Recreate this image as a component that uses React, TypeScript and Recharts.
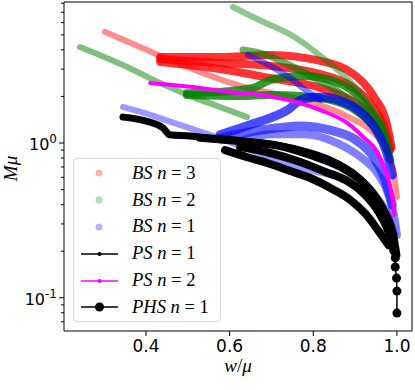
import React from "react";
import { ComposedChart, Line, XAxis, YAxis, ReferenceArea, Legend, Label } from "recharts";

// --- boson stars, n = 3 (red) ---
const bs3ThinW = [0.302, 0.386, 0.457, 0.529, 0.625, 0.721, 0.817, 0.889, 0.937, 0.972, 0.992, 1.0];
const bs3ThinM = [5.22, 4.17, 3.44, 2.88, 2.34, 2.04, 1.76, 1.45, 1.21, 0.928, 0.65, 0.448];
const bs3TopW = [0.434, 0.577, 0.697, 0.817, 0.896, 0.944, 0.977, 0.987];
const bs3TopM = [3.6, 3.6, 3.71, 3.39, 2.79, 2.01, 1.29, 0.94];
const bs3MidW = [0.434, 0.577, 0.697, 0.817, 0.889, 0.941, 0.972, 0.984];
const bs3MidM = [3.49, 3.29, 3.15, 2.79, 2.34, 1.73, 1.21, 0.928];
const bs3LowW = [0.434, 0.577, 0.697, 0.817, 0.889, 0.937, 0.968, 0.984];
const bs3LowM = [3.34, 3.01, 2.63, 2.27, 1.9, 1.52, 1.13, 0.9];

// --- boson stars, n = 2 (green) ---
const bs2ArcW = [0.608, 0.656, 0.697, 0.738, 0.786, 0.817, 0.853, 0.889, 0.925, 0.956, 0.975, 0.984];
const bs2ArcM = [7.57, 6.52, 5.79, 5.14, 4.24, 3.65, 3.05, 2.48, 1.9, 1.41, 1.05, 0.836];
const bs2ThinW = [0.242, 0.355, 0.434, 0.513, 0.577, 0.642];
const bs2ThinM = [4.17, 3.1, 2.44, 1.98, 1.71, 1.47];
const bs2UpW = [0.632, 0.68, 0.738, 0.793, 0.853, 0.901, 0.941, 0.972];
const bs2UpM = [3.99, 3.76, 3.24, 2.71, 2.2, 1.76, 1.37, 1.015];
const bs2BandW = [0.498, 0.577, 0.656, 0.697, 0.776, 0.841, 0.896, 0.937, 0.968, 0.98];
const bs2BandM = [2.1, 2.14, 2.27, 2.55, 2.71, 2.55, 2.14, 1.59, 1.18, 0.875];
const bs2LowW = [0.498, 0.625, 0.697, 0.769, 0.841, 0.901, 0.941, 0.972, 0.984];
const bs2LowM = [2.04, 2.01, 2.04, 2.01, 1.9, 1.63, 1.31, 0.97, 0.776];

// --- boson stars, n = 1 (blue) ---
const bs1ThinW = [0.345, 0.41, 0.481, 0.553, 0.625, 0.697, 0.769, 0.841, 0.901, 0.949, 0.98, 0.996];
const bs1ThinM = [1.71, 1.52, 1.31, 1.13, 0.956, 0.8, 0.689, 0.621, 0.56, 0.461, 0.343, 0.254];
const bs1UpW = [0.644, 0.697, 0.745, 0.781, 0.817];
const bs1UpM = [3.71, 3.15, 2.63, 2.2, 1.9];
const bs1AW = [0.577, 0.656, 0.738, 0.776, 0.817, 0.865, 0.913, 0.953, 0.975, 0.989];
const bs1AM = [1.13, 1.33, 1.63, 1.93, 1.98, 1.87, 1.59, 1.18, 0.875, 0.621];
const bs1BW = [0.577, 0.673, 0.769, 0.841, 0.901, 0.944, 0.972, 0.989];
const bs1BM = [1.08, 1.21, 1.29, 1.21, 1.05, 0.812, 0.576, 0.397];
const bs1CW = [0.625, 0.697, 0.776, 0.857, 0.913, 0.953, 0.98, 0.994, 1.0];
const bs1CM = [1.03, 1.14, 1.14, 1.0, 0.812, 0.64, 0.461, 0.328, 0.254];

// --- proca stars ---
const ps1W = [0.345, 0.398, 0.441, 0.457, 0.505, 0.577, 0.673, 0.769, 0.841, 0.901, 0.941, 0.972, 0.992, 1.0];
const ps1M = [1.47, 1.39, 1.25, 1.13, 1.11, 1.05, 1.0, 0.9, 0.776, 0.621, 0.482, 0.358, 0.254, 0.189];
const ps2W = [0.41, 0.529, 0.625, 0.656, 0.738, 0.817, 0.881, 0.92, 0.953, 0.972, 0.984, 0.992, 0.994];
const ps2M = [2.44, 2.27, 2.1, 2.07, 1.9, 1.63, 1.35, 1.09, 0.875, 0.669, 0.52, 0.386, 0.343];

// --- proca-higgs stars ---
const phsBW = [0.529, 0.625, 0.721, 0.793, 0.865, 0.913, 0.949, 0.975, 0.992];
const phsBM = [1.08, 1.03, 0.956, 0.836, 0.7, 0.576, 0.448, 0.328, 0.229];
const phsCW = [0.625, 0.697, 0.769, 0.829, 0.877, 0.917, 0.953, 0.98, 0.994];
const phsCM = [0.94, 0.862, 0.754, 0.65, 0.576, 0.482, 0.369, 0.266, 0.197];
const phsDW = [0.589, 0.649, 0.697, 0.745, 0.793, 0.841, 0.889, 0.925, 0.956, 0.98];
const phsDM = [0.9, 0.8, 0.732, 0.659, 0.594, 0.512, 0.428, 0.348, 0.27, 0.219];
const phsTailW = [0.992, 0.996, 0.996, 0.999, 1.0, 1.0];
const phsTailM = [0.203, 0.181, 0.158, 0.134, 0.1105, 0.0796];

const xTicks = [0.4, 0.6, 0.8, 1.0];
const yTicks = [0.07, 0.08, 0.09, 0.1, 0.2, 0.3, 0.4, 0.5, 0.6, 0.7, 0.8, 0.9, 1, 2, 3, 4, 5, 6, 7, 8];
const yMajor = [0.1, 1];
const yExponent: Record<string, string> = { "0.1": "-1", "1": "0" };

const legendItems = [
  { label: "BS", n: "3", kind: "circle", color: "rgba(255,0,0,0.3)" },
  { label: "BS", n: "2", kind: "circle", color: "rgba(0,128,0,0.3)" },
  { label: "BS", n: "1", kind: "circle", color: "rgba(0,0,255,0.3)" },
  { label: "PS", n: "1", kind: "small", color: "#000" },
  { label: "PS", n: "2", kind: "small", color: "#ff00ff" },
  { label: "PHS", n: "1", kind: "big", color: "#000" },
];

const pts = (w: number[], m: number[]) => w.map((x, i) => ({ w: x, M: m[i] }));

const XTick = (props: any) => {
  const { x, y, payload } = props;
  return (
    <g>
      <line x1={x} x2={x} y1={y} y2={y + 5} stroke="#000" />
      <text x={x} y={y + 21} textAnchor="middle" fontFamily="DejaVu Sans" fontSize={17} fill="#000">
        {Number(payload.value).toFixed(1)}
      </text>
    </g>
  );
};

const YTick = (props: any) => {
  const { x, y, payload } = props;
  const major = yMajor.includes(payload.value);
  return (
    <g>
      <line x1={x - (major ? 5 : 3)} x2={x} y1={y} y2={y} stroke="#000" />
      {major && (
        <text x={x - 7} y={y + 7} textAnchor="end" fontFamily="DejaVu Sans" fontSize={16} fill="#000">
          10
          <tspan dy={-7} fontSize={12}>
            {yExponent[String(payload.value)]}
          </tspan>
        </text>
      )}
    </g>
  );
};

const renderLegend = () => (
  <div
    style={{
      boxSizing: "border-box",
      width: 148,
      height: 164,
      border: "1px solid #d6d6d6",
      borderRadius: 4,
      background: "rgba(255,255,255,0.8)",
      paddingTop: 1,
    }}
  >
    {legendItems.map((it, i) => (
      <div key={i} style={{ display: "flex", alignItems: "center", height: 26.8 }}>
        <svg width={58} height={16} style={{ flex: "none" }}>
          {it.kind === "circle" ? (
            <circle cx={25} cy={8} r={3.5} fill={it.color} />
          ) : (
            <>
              <line x1={7} x2={44} y1={8} y2={8} stroke={it.color} strokeWidth={1.5} />
              <circle cx={25.5} cy={8} r={it.kind === "big" ? 4.5 : 2} fill={it.color} />
            </>
          )}
        </svg>
        <span style={{ fontFamily: "Liberation Serif", fontSize: 18.5, color: "#000", whiteSpace: "nowrap" }}>
          <i>{it.label}</i>&nbsp;<i>n</i>&nbsp;=&nbsp;{it.n}
        </span>
      </div>
    ))}
  </div>
);

const curve = (key: string, w: number[], m: number[], color: string, width: number, opacity: number) => (
  <Line
    key={key}
    data={pts(w, m)}
    dataKey="M"
    type="monotone"
    stroke={color}
    strokeWidth={width}
    strokeOpacity={opacity}
    strokeLinecap="round"
    strokeLinejoin="round"
    dot={false}
    activeDot={false}
    legendType="none"
    isAnimationActive={false}
  />
);

export default function App() {
  return (
    <div style={{ position: "absolute", left: 0, top: 0, background: "#fff" }}>
      <ComposedChart width={415} height={390} margin={{ top: 2, right: 3, bottom: 0, left: 0 }}>
        <XAxis
          dataKey="w"
          type="number"
          domain={[0.204, 1.036]}
          allowDataOverflow
          ticks={xTicks}
          interval={0}
          height={59}
          tickSize={0}
          tickMargin={0}
          tickLine={false}
          axisLine={false}
          tick={<XTick />}
        >
          <Label
            content={(p: any) => (
              <text
                x={p.viewBox.x + p.viewBox.width / 2}
                y={p.viewBox.y + 41}
                textAnchor="middle"
                fontFamily="Liberation Serif"
                fontSize={19}
                fill="#000"
              >
                <tspan fontStyle="italic">w</tspan>/<tspan fontStyle="italic">μ</tspan>
              </text>
            )}
          />
        </XAxis>
        <YAxis
          type="number"
          scale="log"
          domain={[0.061, 8.15]}
          allowDataOverflow
          ticks={yTicks}
          interval={0}
          width={64}
          tickSize={0}
          tickMargin={0}
          tickLine={false}
          axisLine={false}
          tick={<YTick />}
        >
          <Label
            content={(p: any) => (
              <text
                transform={`translate(17,${p.viewBox.y + p.viewBox.height / 2 + 2}) rotate(-90)`}
                textAnchor="middle"
                fontFamily="Liberation Serif"
                fontStyle="italic"
                fontSize={19}
                fill="#000"
              >
                Mμ
              </text>
            )}
          />
        </YAxis>

        {curve("r1", bs3ThinW, bs3ThinM, "#ff0000", 6, 0.45)}
        {curve("r2", bs3TopW, bs3TopM, "#ff0000", 8, 0.8)}
        {curve("r3", bs3MidW, bs3MidM, "#ff0000", 8, 0.8)}
        {curve("r4", bs3LowW, bs3LowM, "#ff0000", 8, 0.8)}

        {curve("g1", bs2ArcW, bs2ArcM, "#008000", 6, 0.45)}
        {curve("g2", bs2ThinW, bs2ThinM, "#008000", 6, 0.5)}
        {curve("g3", bs2UpW, bs2UpM, "#008000", 7, 0.6)}
        {curve("g4", bs2BandW, bs2BandM, "#008000", 8, 0.8)}
        {curve("g5", bs2LowW, bs2LowM, "#008000", 8, 0.8)}

        {curve("b1", bs1ThinW, bs1ThinM, "#0000ff", 6, 0.4)}
        {curve("b2", bs1UpW, bs1UpM, "#0000ff", 6, 0.5)}
        {curve("b3", bs1AW, bs1AM, "#0000ff", 9, 0.7)}
        {curve("b4", bs1BW, bs1BM, "#0000ff", 9, 0.6)}
        {curve("b5", bs1CW, bs1CM, "#0000ff", 8, 0.5)}

        {curve("k1", ps1W, ps1M, "#000", 7, 1)}
        {curve("m1", ps2W, ps2M, "#ff00ff", 4, 1)}

        {curve("k2", phsBW, phsBM, "#000", 8, 1)}
        {curve("k3", phsCW, phsCM, "#000", 8, 1)}
        {curve("k4", phsDW, phsDM, "#000", 8, 1)}
        <Line
          data={pts(phsTailW, phsTailM)}
          dataKey="M"
          type="linear"
          stroke="#000"
          strokeWidth={1.5}
          dot={{ r: 4.5, fill: "#000", stroke: "#000", strokeWidth: 0 }}
          activeDot={false}
          legendType="none"
          isAnimationActive={false}
        />

        <ReferenceArea
          x1={0.204}
          x2={1.036}
          y1={0.061}
          y2={8.15}
          fill="none"
          stroke="#000"
          strokeWidth={1}
          ifOverflow="visible"
        />
        <Legend
          content={renderLegend}
          layout="vertical"
          align="center"
          verticalAlign="middle"
          wrapperStyle={{ left: 73, top: 158, width: 148, height: 164 }}
        />
      </ComposedChart>
    </div>
  );
}
